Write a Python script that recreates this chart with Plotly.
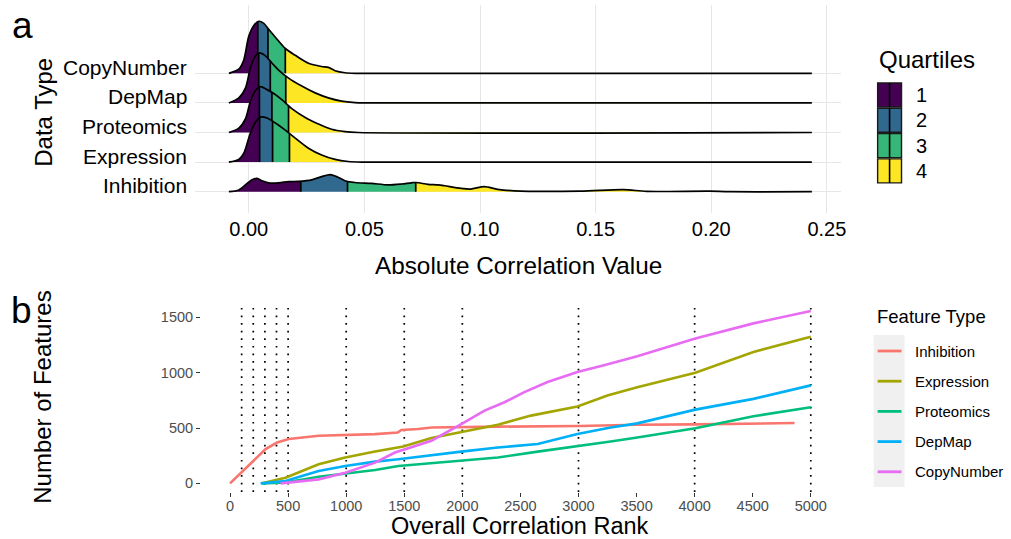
import numpy as np
import plotly.graph_objects as go

W, H = 1011, 539

# ---------------- Panel a data: ridgeline densities (scaled height, ridge units) ----------------
data_types = ["Inhibition", "Expression", "Proteomics", "DepMap", "CopyNumber"]  # bottom -> top

ridge_x = {
    "CopyNumber": [-0.0086, -0.0043, -0.0022, 0.0, 0.0022, 0.0043, 0.0065, 0.0086, 0.0115, 0.0158,
                   0.0201, 0.0258, 0.0315, 0.0344, 0.0373, 0.0416, 0.0460, 0.2435],
    "DepMap": [-0.0086, -0.0043, -0.0014, 0.0007, 0.0029, 0.0046, 0.0072, 0.0100, 0.0129, 0.0172,
               0.0229, 0.0287, 0.0344, 0.0401, 0.0459, 0.0500, 0.2435],
    "Proteomics": [-0.0086, -0.0043, -0.0014, 0.0007, 0.0029, 0.0050, 0.0079, 0.0108, 0.0143, 0.0186,
                   0.0244, 0.0301, 0.0358, 0.0416, 0.0473, 0.2435],
    "Expression": [-0.0086, -0.0043, -0.0022, 0.0007, 0.0029, 0.0050, 0.0079, 0.0115, 0.0158, 0.0201,
                   0.0258, 0.0315, 0.0373, 0.0430, 0.0488, 0.2435],
    "Inhibition": [-0.0086, -0.0043, -0.0007, 0.0014, 0.0036, 0.0057, 0.0086, 0.0129, 0.0172, 0.0215,
                   0.0272, 0.0315, 0.0352, 0.0380, 0.0416, 0.0459, 0.0531, 0.0602, 0.0660, 0.0703,
                   0.0723, 0.0775, 0.0818, 0.0846, 0.0918, 0.0960, 0.1018, 0.1076, 0.1148, 0.1433,
                   0.1621, 0.1721, 0.1992, 0.2078, 0.2435],
}
ridge_h = {
    "CopyNumber": [0, 0.14, 0.44, 1.25, 1.62, 1.76, 1.69, 1.49, 1.22, 0.84,
                   0.61, 0.34, 0.23, 0.20, 0.09, 0.02, 0, 0],
    "DepMap": [0, 0.17, 0.51, 1.18, 1.59, 1.69, 1.59, 1.35, 1.11, 0.84,
               0.57, 0.34, 0.17, 0.06, 0.01, 0, 0],
    "Proteomics": [0, 0.15, 0.47, 1.05, 1.42, 1.55, 1.45, 1.32, 1.11, 0.81,
                   0.51, 0.29, 0.11, 0.03, 0, 0],
    "Expression": [0, 0.09, 0.29, 0.98, 1.35, 1.52, 1.49, 1.32, 1.08, 0.81,
                   0.47, 0.24, 0.09, 0.02, 0, 0],
    "Inhibition": [0, 0.06, 0.28, 0.40, 0.45, 0.37, 0.30, 0.30, 0.34, 0.35,
                   0.40, 0.51, 0.58, 0.51, 0.37, 0.31, 0.28, 0.23, 0.26, 0.30,
                   0.31, 0.25, 0.23, 0.20, 0.11, 0.09, 0.17, 0.08, 0.03, 0.02,
                   0.07, 0.01, 0.02, 0, 0],
}
quartile_cuts = {
    "CopyNumber": [0.0039, 0.0083, 0.0158],
    "DepMap": [0.0043, 0.0093, 0.0160],
    "Proteomics": [0.0046, 0.0100, 0.0172],
    "Expression": [0.0047, 0.0103, 0.0176],
    "Inhibition": [0.0225, 0.0427, 0.0722],
}
quartile_labels = ["1", "2", "3", "4"]
quartile_colors = ["#440154", "#31688E", "#35B779", "#FDE725"]
xa_ticks = [0.0, 0.05, 0.10, 0.15, 0.20, 0.25]
xa_ticktext = ["0.00", "0.05", "0.10", "0.15", "0.20", "0.25"]

# ---------------- Panel b data: cumulative feature counts vs rank ----------------
feature_types = ["Inhibition", "Expression", "Proteomics", "DepMap", "CopyNumber"]
feature_colors = ["#F8766D", "#A3A500", "#00BF7D", "#00B0F6", "#E76BF3"]
rank_pts = {
    "Inhibition": [0, 306, 405, 506, 763, 992, 1249, 1445, 1475, 1620, 1734, 2306, 3006, 3506, 4006, 4860],
    "Expression": [277, 477, 763, 992, 1249, 1491, 1734, 1991, 2306, 2591, 2991, 3249, 3506, 4006, 4506, 5000],
    "Proteomics": [277, 477, 763, 992, 1249, 1449, 1991, 2306, 2649, 2991, 3277, 3506, 4006, 4506, 5000],
    "DepMap": [263, 477, 763, 992, 1249, 1449, 1991, 2306, 2649, 2991, 3277, 3506, 4006, 4506, 5000],
    "CopyNumber": [434, 763, 992, 1249, 1420, 1620, 1734, 1991, 2191, 2363, 2534, 2734, 2991, 3220,
                   3506, 4006, 4506, 5000],
}
count_pts = {
    "Inhibition": [0, 309, 369, 400, 430, 439, 445, 460, 482, 491, 505, 512, 518, 530, 533, 545],
    "Expression": [0, 51, 173, 233, 287, 333, 410, 466, 530, 612, 694, 794, 869, 1000, 1187, 1324],
    "Proteomics": [0, 8, 60, 90, 121, 157, 203, 233, 287, 333, 378, 415, 497, 606, 688],
    "DepMap": [0, 21, 112, 157, 196, 218, 287, 324, 355, 445, 505, 542, 666, 763, 885],
    "CopyNumber": [0, 36, 96, 187, 278, 348, 385, 536, 657, 733, 824, 915, 1005, 1066,
                   1148, 1309, 1445, 1557],
}
rank_thresholds = [100, 200, 300, 400, 500, 1000, 1500, 2000, 3000, 4000, 5000]
xb_ticks = list(range(0, 5001, 500))
yb_ticks = [0, 500, 1000, 1500]

FONT = "Liberation Sans, Arial, Helvetica, sans-serif"


def px(x):
    return x / W


def py(y):
    return 1 - y / H


fig = go.Figure()

# ---------------- Panel a ridges (top ridge drawn first) ----------------
for pos in range(len(data_types) - 1, -1, -1):
    name = data_types[pos]
    xs = np.array(ridge_x[name], dtype=float)
    hs = np.array(ridge_h[name], dtype=float)
    cuts = [xs[0]] + quartile_cuts[name] + [xs[-1]]
    for q in range(4):
        lo, hi = cuts[q], cuts[q + 1]
        mask = (xs > lo) & (xs < hi)
        sx = np.concatenate([[lo], xs[mask], [hi]])
        sh = np.concatenate([[np.interp(lo, xs, hs)], hs[mask], [np.interp(hi, xs, hs)]])
        fig.add_trace(go.Scatter(x=[lo, hi], y=[pos, pos], mode="lines", line=dict(width=0),
                                 hoverinfo="skip", showlegend=False, xaxis="x", yaxis="y"))
        fig.add_trace(go.Scatter(x=sx, y=pos + sh, mode="lines",
                                 line=dict(width=0, shape="spline", smoothing=0.8),
                                 fill="tonexty", fillcolor=quartile_colors[q],
                                 hoverinfo="skip", showlegend=False, xaxis="x", yaxis="y"))
    vx, vy = [], []
    for c in quartile_cuts[name]:
        vx += [c, c, None]
        vy += [pos, pos + float(np.interp(c, xs, hs)), None]
    fig.add_trace(go.Scatter(x=vx, y=vy, mode="lines", line=dict(color="black", width=1.7),
                             hoverinfo="skip", showlegend=False, xaxis="x", yaxis="y"))
    fig.add_trace(go.Scatter(x=xs, y=pos + hs, mode="lines",
                             line=dict(color="black", width=1.7, shape="spline", smoothing=0.8),
                             hoverinfo="skip", showlegend=False, xaxis="x", yaxis="y"))

# ---------------- Panel b lines ----------------
for name, col in zip(feature_types, feature_colors):
    fig.add_trace(go.Scatter(x=rank_pts[name], y=count_pts[name], mode="lines",
                             line=dict(color=col, width=2.6), name=name,
                             showlegend=False, xaxis="x2", yaxis="y2"))

shapes = []
for r in rank_thresholds:
    shapes.append(dict(type="line", xref="x2", yref="y2 domain", x0=r, x1=r, y0=0, y1=1,
                       line=dict(color="black", width=1.7, dash="1.7px,5.9px"), layer="below"))

# ---------------- Legends (manual, ggplot style) ----------------
annotations = []
# Quartiles legend
annotations.append(dict(text="Quartiles", x=px(881), y=py(59), xref="paper", yref="paper",
                        xanchor="left", yanchor="middle", showarrow=False,
                        font=dict(family=FONT, size=24, color="black")))
for i, (lab, col) in enumerate(zip(quartile_labels, quartile_colors)):
    top = 83 + 25.3 * i
    shapes.append(dict(type="rect", xref="paper", yref="paper", x0=px(882), x1=px(906),
                       y0=py(top + 24), y1=py(top), fillcolor=col,
                       line=dict(color="#1a1a1a", width=1.4)))
    shapes.append(dict(type="line", xref="paper", yref="paper", x0=px(894), x1=px(894),
                       y0=py(top + 24), y1=py(top), line=dict(color="black", width=1.6)))
    annotations.append(dict(text=lab, x=px(919), y=py(top + 12), xref="paper", yref="paper",
                            xanchor="left", yanchor="middle", showarrow=False,
                            font=dict(family=FONT, size=20, color="black")))

# Feature Type legend
annotations.append(dict(text="Feature Type", x=px(879), y=py(316), xref="paper", yref="paper",
                        xanchor="left", yanchor="middle", showarrow=False,
                        font=dict(family=FONT, size=18.5, color="black")))
shapes.append(dict(type="rect", xref="paper", yref="paper", x0=px(878), x1=px(909),
                   y0=py(487), y1=py(335), fillcolor="#F0F0F0", line=dict(width=0)))
for i, (name, col) in enumerate(zip(feature_types, feature_colors)):
    yc = 351 + 30.2 * i
    shapes.append(dict(type="line", xref="paper", yref="paper", x0=px(882), x1=px(906),
                       y0=py(yc), y1=py(yc), line=dict(color=col, width=2.8)))
    annotations.append(dict(text=name, x=px(918), y=py(yc), xref="paper", yref="paper",
                            xanchor="left", yanchor="middle", showarrow=False,
                            font=dict(family=FONT, size=15, color="black")))

# ---------------- Text: panel labels, axis titles, category labels ----------------
for pos, name in enumerate(data_types):
    annotations.append(dict(text=name, x=px(190), y=pos, xref="paper", yref="y",
                            xanchor="right", yanchor="middle", yshift=6, showarrow=False,
                            font=dict(family=FONT, size=21, color="black")))
annotations += [
    dict(text="a", x=px(23), y=py(26), xref="paper", yref="paper", xanchor="center",
         yanchor="middle", showarrow=False, font=dict(family=FONT, size=37, color="black")),
    dict(text="b", x=px(22), y=py(310), xref="paper", yref="paper", xanchor="center",
         yanchor="middle", showarrow=False, font=dict(family=FONT, size=37, color="black")),
    dict(text="Absolute Correlation Value", x=px(521), y=py(265), xref="paper", yref="paper",
         xanchor="center", yanchor="middle", showarrow=False,
         font=dict(family=FONT, size=24.3, color="black")),
    dict(text="Data Type", x=px(43), y=py(112), xref="paper", yref="paper", textangle=-90,
         xanchor="center", yanchor="middle", showarrow=False,
         font=dict(family=FONT, size=24, color="black")),
    dict(text="Overall Correlation Rank", x=px(523), y=py(526), xref="paper", yref="paper",
         xanchor="center", yanchor="middle", showarrow=False,
         font=dict(family=FONT, size=23.5, color="black")),
    dict(text="Number of Features", x=px(42), y=py(397), xref="paper", yref="paper", textangle=-90,
         xanchor="center", yanchor="middle", showarrow=False,
         font=dict(family=FONT, size=24, color="black")),
]

grid_col = "#E6E6E6"
fig.update_layout(
    width=W, height=H, autosize=False,
    margin=dict(l=0, r=0, t=0, b=0),
    paper_bgcolor="white", plot_bgcolor="white",
    showlegend=False,
    font=dict(family=FONT),
    xaxis=dict(domain=[px(196), px(845)], range=[-0.02324, 0.25602], anchor="y",
               tickvals=xa_ticks, ticktext=xa_ticktext, ticks="", showline=False,
               zeroline=False, showgrid=True, gridcolor=grid_col, gridwidth=1.3,
               tickfont=dict(family=FONT, size=20, color="black"), ticklabelstandoff=2),
    yaxis=dict(domain=[py(213), py(5)], range=[-0.72, 6.31], anchor="x",
               tickvals=list(range(len(data_types))), showticklabels=False, ticks="",
               showline=False, zeroline=False, showgrid=True, gridcolor=grid_col, gridwidth=1.3),
    xaxis2=dict(domain=[px(202), px(844)], range=[-250, 5250], anchor="y2",
                tickvals=xb_ticks, ticks="outside", ticklen=4, tickwidth=1.1, tickcolor="#333333",
                showline=False, zeroline=False, showgrid=False, ticklabelstandoff=-3,
                tickfont=dict(family=FONT, size=14.5, color="#4D4D4D")),
    yaxis2=dict(domain=[py(492), py(302)], range=[-78, 1638], anchor="x2",
                tickvals=yb_ticks, ticks="outside", ticklen=4, tickwidth=1.1, tickcolor="#333333",
                showline=False, zeroline=False, showgrid=False,
                tickfont=dict(family=FONT, size=14.5, color="#4D4D4D")),
    shapes=shapes,
    annotations=annotations,
)

fig.write_html("out.html", config={"displayModeBar": False},
               post_script="document.body.style.margin='0';document.body.style.padding='0';")
